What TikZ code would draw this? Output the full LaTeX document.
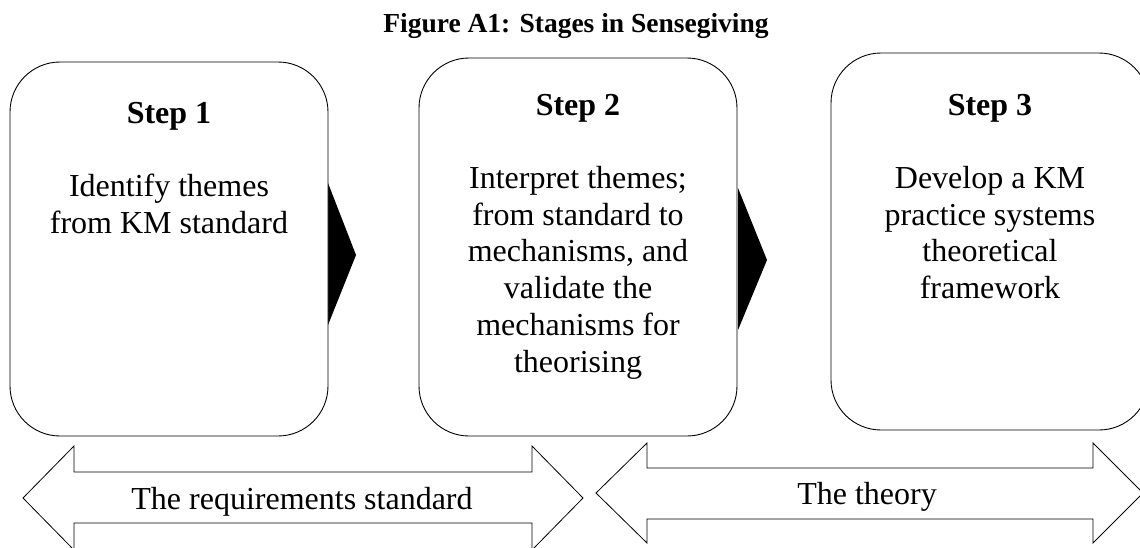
\documentclass[tikz,border=0pt]{standalone}
\usepackage{fontspec}
\setmainfont{Liberation Serif}
\begin{document}
\begin{tikzpicture}[x=1pt,y=-1pt,
  stepbox/.style={draw=black, line width=0.9pt, fill=white, rounded corners=50pt, inner sep=0pt},
  steptitle/.style={font=\fontsize{32}{36.8}\selectfont\bfseries, anchor=base, inner sep=0pt},
  steptext/.style={font=\fontsize{32}{36.8}\selectfont, align=center, anchor=north, inner sep=0pt},
  chevron/.style={fill=black, draw=none},
  blockarrow/.style={draw=black, line width=0.8pt, fill=white, line join=miter},
  arrowtext/.style={font=\fontsize{32}{36.8}\selectfont, anchor=base, inner sep=0pt}]
\clip (0,0) rectangle (1140,547);
\fill[white] (0,0) rectangle (1140,547);
% title
\node[font=\fontsize{27.5}{32}\selectfont\bfseries, anchor=base, inner sep=0pt] (title) at (576,32) {Figure A1: Stages in Sensegiving};
% chevrons
\fill[chevron] (328,183) -- (356,255) -- (328,325) -- cycle;
\fill[chevron] (738,188) -- (767,260) -- (738,330) -- cycle;
% boxes
\node[stepbox, minimum width=318pt, minimum height=374pt] (b1) at (169,249) {};
\node[stepbox, minimum width=318pt, minimum height=378pt] (b2) at (578,247) {};
\node[stepbox, minimum width=318pt, minimum height=377pt] (b3) at (990,241.5) {};
% step titles
\node[steptitle] (s1) at (169,123) {Step 1};
\node[steptitle] (s2) at (578,115) {Step 2};
\node[steptitle] (s3) at (990,115) {Step 3};
% step texts
\node[steptext] (t1) at (169,171) {\rule{0pt}{25pt}Identify themes\\from KM standard};
\node[steptext] (t2) at (578,163) {\rule{0pt}{25pt}Interpret themes;\\from standard to\\mechanisms, and\\validate the\\mechanisms for\\theorising};
\node[steptext] (t3) at (990,163) {\rule{0pt}{25pt}Develop a KM\\practice systems\\theoretical\\framework};
% double block arrows
\draw[blockarrow] (23,498) -- (74,446) -- (74,472) -- (532,472) -- (532,446) -- (583,498) -- (532,550) -- (532,523) -- (74,523) -- (74,550) -- cycle;
\draw[blockarrow] (596,493) -- (647,443) -- (647,468) -- (1093,468) -- (1093,443) -- (1143,493) -- (1093,543) -- (1093,519) -- (647,519) -- (647,543) -- cycle;
\node[arrowtext] (a1) at (302,509) {The requirements standard};
\node[arrowtext] (a2) at (867,504) {The theory};
\end{tikzpicture}
\end{document}
